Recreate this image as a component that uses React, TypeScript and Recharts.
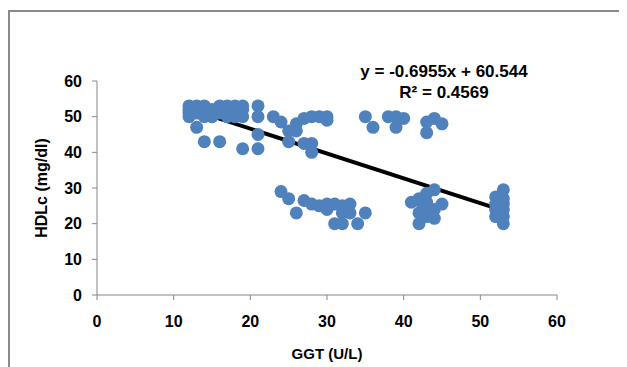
import { ReferenceLine, Scatter, ScatterChart, XAxis, YAxis } from "recharts";

// GGT (U/L) vs HDLc (mg/dl)
const ggt = [
  12, 12, 12, 12, 13, 13, 13, 14, 14, 14, 14, 15, 15, 16, 16, 16, 17, 17, 17,
  18, 18, 18, 19, 19, 19, 19, 21, 21, 21, 21, 23, 24, 25, 26, 25, 26, 27, 28,
  29, 30, 30, 27, 28, 28, 35, 36, 38, 39, 40, 39, 43, 43, 44, 45,
  24, 25, 26, 27, 28, 29, 30, 31, 32, 33, 32, 31, 32, 34, 35, 30, 33,
  41, 42, 42, 42, 43, 43, 43, 44, 44, 44, 45, 43, 42.5,
  53, 52, 53, 53, 52, 52, 53, 53, 52, 53,
];
const hdlc = [
  53, 52, 51, 50, 53, 51, 47, 53, 52, 50, 43, 52, 50, 53, 51, 43, 53, 52, 50,
  53, 51, 50, 53, 52, 50, 41, 53, 50, 45, 41, 50, 48.5, 46, 46, 43, 48, 49.5, 50,
  50, 50, 49, 42.5, 42.5, 40, 50, 47, 50, 50, 49.5, 47, 48.5, 45.5, 49.5, 48,
  29, 27, 23, 26.5, 25.5, 25, 25.5, 25.5, 25, 25.5, 23, 20, 20, 20, 23, 24, 23,
  26, 27, 23, 20, 28.5, 26, 22, 29.5, 24, 21.5, 25.5, 24, 25,
  29.5, 27.5, 27, 25.5, 24, 22, 22, 20, 25.5, 24,
];

const slope = -0.6955;
const intercept = 60.544;
const trendX = [12, 53];
const axisTicks = [0, 10, 20, 30, 40, 50, 60];

const points = ggt.map((x, i) => ({ x, y: hdlc[i] }));

const font = "'Liberation Sans', Arial, sans-serif";
const tickStyle = { fill: "#000", fontSize: 16, fontWeight: 700, fontFamily: font };

export default function App() {
  return (
    <div style={{ position: "relative", width: 619, height: 359, overflow: "hidden", fontFamily: font }}>
      <div
        style={{
          position: "absolute",
          left: 0,
          top: 2,
          width: 700,
          height: 500,
          border: "2px solid #8a8a8a",
        }}
      />
      <div style={{ position: "absolute", left: 0, top: 0 }}>
        <ScatterChart width={619} height={359} margin={{ top: 73, right: 70, bottom: 8, left: 20 }}>
          <XAxis
            type="number"
            dataKey="x"
            domain={[0, 60]}
            ticks={axisTicks}
            height={64}
            stroke="#868686"
            tickSize={5}
            tickMargin={16}
            tick={tickStyle}
            label={{
              value: "GGT (U/L)",
              position: "insideBottom",
              offset: 0,
              style: { ...tickStyle, fontSize: 15, textAnchor: "middle" },
            }}
          />
          <YAxis
            type="number"
            dataKey="y"
            domain={[0, 60]}
            ticks={axisTicks}
            width={69}
            stroke="#868686"
            tickSize={5}
            tickMargin={10}
            tick={tickStyle}
            label={{
              value: "HDLc (mg/dl)",
              angle: -90,
              position: "insideLeft",
              offset: 13,
              style: { ...tickStyle, textAnchor: "middle" },
            }}
          />
          <Scatter
            data={points}
            isAnimationActive={false}
            shape={(p: any) => <circle cx={p.cx} cy={p.cy} r={6.5} fill="#4f81bd" />}
          />
          <ReferenceLine
            segment={trendX.map((x) => ({ x, y: slope * x + intercept }))}
            stroke="#000"
            strokeWidth={4}
          />
        </ScatterChart>
      </div>
      <div
        style={{
          position: "absolute",
          left: 336,
          width: 200,
          top: 54,
          textAlign: "center",
          fontSize: 17,
          fontWeight: 700,
          lineHeight: "20px",
        }}
      >
        <div>y = -0.6955x + 60.544</div>
        <div style={{ marginTop: 1 }}>R² = 0.4569</div>
      </div>
    </div>
  );
}
